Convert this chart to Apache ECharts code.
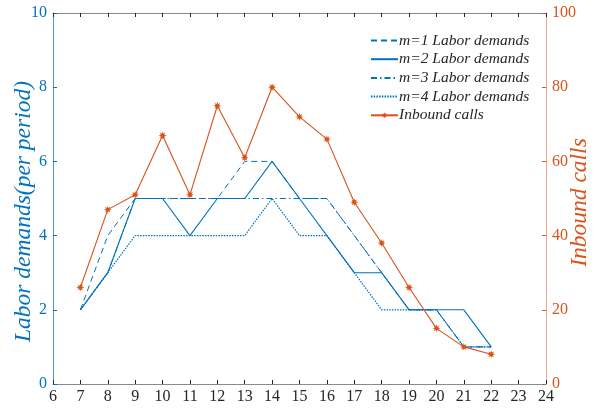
<!DOCTYPE html>
<html>
<head>
<meta charset="utf-8">
<script src="https://cdn.jsdelivr.net/npm/echarts@6/dist/echarts.min.js"></script>
<style>html,body{margin:0;padding:0;background:#fff;}#c{width:595px;height:408px;}</style>
</head>
<body>
<div id="c"></div>
<script>
const hours = [7, 8, 9, 10, 11, 12, 13, 14, 15, 16, 17, 18, 19, 20, 21, 22];
const m1 = [2, 4, 5, 5, 5, 5, 6, 6, 5, 5, 4, 3, 2, 2, 1, 1];
const m2 = [2, 3, 5, 5, 4, 5, 5, 6, 5, 4, 3, 3, 2, 2, 2, 1];
const m3 = [2, 3, 5, 5, 5, 5, 5, 5, 5, 5, 4, 3, 2, 2, 1, 1];
const m4 = [2, 3, 4, 4, 4, 4, 4, 5, 4, 4, 3, 2, 2, 2, 1, 1];
const calls = [26, 47, 51, 67, 51, 75, 61, 80, 72, 66, 49, 38, 26, 15, 10, 8];
const names = ['m=1 Labor demands', 'm=2 Labor demands', 'm=3 Labor demands', 'm=4 Labor demands', 'Inbound calls'];

const BLUE = '#0072BD', ORANGE = '#D95319';
const FONT = '"Liberation Serif", "Times New Roman", serif';
const pairs = arr => hours.map((h, i) => [h, arr[i]]);

// asterisk-like star marker shape
let starPath = 'path://';
for (let k = 0; k < 16; k++) {
  const a = k * Math.PI / 8;
  const r = k % 2 === 0 ? 10 : 4.6;
  starPath += (k === 0 ? 'M' : 'L') + (10 + r * Math.sin(a)).toFixed(2) + ' ' + (10 - r * Math.cos(a)).toFixed(2) + ' ';
}
starPath += 'Z';

const chart = echarts.init(document.getElementById('c'));
function blueSeries(name, arr, type, width) {
  return {
    name, type: 'line', data: pairs(arr), yAxisIndex: 0, xAxisIndex: 0,
    symbol: 'none', color: BLUE,
    lineStyle: { color: BLUE, width: width, type: type },
    emphasis: { disabled: true }, z: 2
  };
}
chart.setOption({
  animation: false,
  textStyle: { fontFamily: FONT },
  grid: { left: 53, right: 49, top: 13, bottom: 24, containLabel: false, outerBoundsMode: 'none' },
  legend: {
    orient: 'vertical', left: 365, top: 27.5, itemGap: 2.7,
    itemWidth: 27, itemHeight: 8,
    textStyle: { fontFamily: FONT, fontStyle: 'italic', fontSize: 15.5, color: '#262626', padding: [0, 0, 0, -4] },
    data: [
      { name: names[0], itemStyle: { opacity: 0 } },
      { name: names[1], itemStyle: { opacity: 0 } },
      { name: names[2], itemStyle: { opacity: 0 } },
      { name: names[3], itemStyle: { opacity: 0 } },
      { name: names[4] }
    ]
  },
  xAxis: [
    { type: 'value', min: 6, max: 24, interval: 1, position: 'bottom',
      axisLine: { show: true, onZero: false, lineStyle: { color: '#8a8a8a', width: 1 } },
      axisTick: { show: true, inside: true, length: 4, lineStyle: { color: '#262626' } },
      axisLabel: { color: '#262626', fontSize: 16, fontFamily: FONT, margin: 5 },
      splitLine: { show: false } },
    { type: 'value', min: 6, max: 24, interval: 1, position: 'top',
      axisLine: { show: true, onZero: false, lineStyle: { color: '#8a8a8a', width: 1 } },
      axisTick: { show: true, inside: true, length: 4, lineStyle: { color: '#262626' } },
      axisLabel: { show: false }, splitLine: { show: false } }
  ],
  yAxis: [
    { type: 'value', min: 0, max: 10, interval: 2, position: 'left',
      name: 'Labor demands(per period)', nameLocation: 'middle', nameGap: 18, nameMoveOverlap: false,
      nameTextStyle: { color: BLUE, fontStyle: 'italic', fontSize: 23.5, fontFamily: FONT, padding: [0, 26, 0, 0] },
      axisLine: { show: true, onZero: false, lineStyle: { color: '#4d9bd6', width: 1 } },
      axisTick: { show: true, inside: true, length: 4, lineStyle: { color: BLUE } },
      axisLabel: { color: BLUE, fontSize: 16, fontFamily: FONT, margin: 6 },
      splitLine: { show: false } },
    { type: 'value', min: 0, max: 100, interval: 20, position: 'right',
      name: 'Inbound calls', nameLocation: 'middle', nameGap: 22, nameRotate: 90, nameMoveOverlap: false,
      nameTextStyle: { color: ORANGE, fontStyle: 'italic', fontSize: 23.5, fontFamily: FONT, padding: [0, 8, 0, 0] },
      axisLine: { show: true, onZero: false, lineStyle: { color: '#f0a98a', width: 1 } },
      axisTick: { show: true, inside: true, length: 4, lineStyle: { color: ORANGE } },
      axisLabel: { color: ORANGE, fontSize: 16, fontFamily: FONT, margin: 6 },
      splitLine: { show: false } }
  ],
  series: [
    blueSeries(names[0], m1, [6, 4], 1),
    blueSeries(names[1], m2, 'solid', 1.1),
    blueSeries(names[2], m3, [6, 3, 1.5, 3], 1),
    blueSeries(names[3], m4, [1.5, 1.2], 1.2),
    { name: names[4], type: 'line', data: pairs(calls), yAxisIndex: 1, xAxisIndex: 0,
      symbol: starPath, symbolSize: 8, color: ORANGE,
      itemStyle: { color: ORANGE },
      lineStyle: { color: ORANGE, width: 1.1 },
      emphasis: { disabled: true }, z: 3 }
  ]
});
</script>
</body>
</html>
